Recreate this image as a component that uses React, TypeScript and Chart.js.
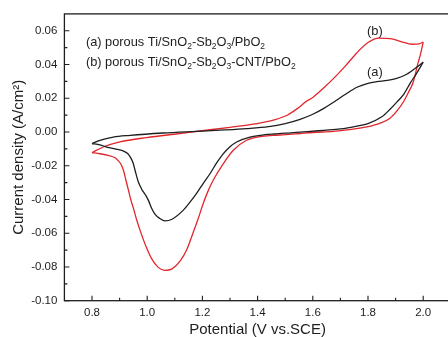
import React, { useEffect, useRef } from 'react';
import { Chart, registerables } from 'chart.js';

Chart.register(...registerables);

// ---- Data ----
// Curve (a): porous Ti/SnO2-Sb2O3/PbO2 — forward (anodic) scan
const potentialAFwd = [0.800, 0.829, 0.877, 0.938, 1.057, 1.179, 1.28, 1.36, 1.44, 1.50, 1.554, 1.60, 1.64, 1.674, 1.72, 1.76, 1.80, 1.832, 1.87, 1.904, 1.935, 1.965, 2.000];
const currentAFwd = [-0.0069, -0.0049, -0.0030, -0.0020, -0.0006, 0.0004, 0.0012, 0.0020, 0.0032, 0.0050, 0.0075, 0.0105, 0.0140, 0.0175, 0.0225, 0.0265, 0.0288, 0.0298, 0.0306, 0.0318, 0.0338, 0.0370, 0.0414];
// Curve (a): reverse (cathodic) scan
const potentialARev = [2.000, 1.975, 1.953, 1.930, 1.906, 1.88, 1.85, 1.80, 1.76, 1.70, 1.64, 1.58, 1.52, 1.46, 1.409, 1.372, 1.324, 1.300, 1.276, 1.251, 1.228, 1.202, 1.179, 1.155, 1.131, 1.090, 1.064, 1.046, 1.028, 1.016, 1.004, 0.992, 0.980, 0.967, 0.956, 0.949, 0.941, 0.930, 0.913, 0.883, 0.853, 0.829, 0.800];
const currentARev = [0.0414, 0.0345, 0.0290, 0.0225, 0.0180, 0.0135, 0.0090, 0.0050, 0.0035, 0.0018, 0.0010, 0.0002, -0.0005, -0.0012, -0.0020, -0.0030, -0.0059, -0.0087, -0.0128, -0.0185, -0.0246, -0.0307, -0.0364, -0.0416, -0.0463, -0.0517, -0.0527, -0.0513, -0.0487, -0.0452, -0.0404, -0.0369, -0.0339, -0.0292, -0.0227, -0.0184, -0.0155, -0.0129, -0.0112, -0.0100, -0.0089, -0.0076, -0.0069];

// Curve (b): porous Ti/SnO2-Sb2O3-CNT/PbO2 — forward scan
const potentialBFwd = [0.800, 0.841, 0.901, 0.998, 1.119, 1.191, 1.30, 1.398, 1.46, 1.507, 1.545, 1.575, 1.60, 1.64, 1.68, 1.72, 1.76, 1.80, 1.84, 1.88, 1.92, 1.96, 1.985, 2.000];
const currentBFwd = [-0.0122, -0.0089, -0.0059, -0.0033, -0.0009, 0.0006, 0.0028, 0.0050, 0.0072, 0.0099, 0.0140, 0.0180, 0.0205, 0.0262, 0.0325, 0.0395, 0.0470, 0.0530, 0.0556, 0.0553, 0.0536, 0.0520, 0.0522, 0.0533];
// Curve (b): reverse scan
const potentialBRev = [2.000, 1.990, 1.982, 1.964, 1.945, 1.928, 1.905, 1.880, 1.84, 1.795, 1.74, 1.674, 1.60, 1.554, 1.50, 1.457, 1.409, 1.360, 1.312, 1.276, 1.239, 1.220, 1.203, 1.184, 1.167, 1.144, 1.119, 1.090, 1.064, 1.039, 1.017, 0.998, 0.978, 0.962, 0.952, 0.941, 0.932, 0.923, 0.914, 0.905, 0.894, 0.880, 0.858, 0.829, 0.800];
const currentBRev = [0.0533, 0.0460, 0.0414, 0.0296, 0.0230, 0.0178, 0.0125, 0.0082, 0.0050, 0.0030, 0.0015, 0.0004, -0.0003, -0.0009, -0.0016, -0.0020, -0.0027, -0.0049, -0.0108, -0.0187, -0.0286, -0.0352, -0.0424, -0.0517, -0.0594, -0.0695, -0.0766, -0.0811, -0.0820, -0.0801, -0.0754, -0.0688, -0.0601, -0.0522, -0.0463, -0.0404, -0.0345, -0.0286, -0.0227, -0.0191, -0.0168, -0.0150, -0.0138, -0.0129, -0.0122];

// Axis ticks
const xTickValues = [0.8, 1.0, 1.2, 1.4, 1.6, 1.8, 2.0];
const xMinorTicks = [0.9, 1.1, 1.3, 1.5, 1.7, 1.9];
const yTickValues = [-0.10, -0.08, -0.06, -0.04, -0.02, 0.0, 0.02, 0.04, 0.06];
const yMinorTicks = [-0.09, -0.07, -0.05, -0.03, -0.01, 0.01, 0.03, 0.05];

// Text
const xTitle = 'Potential (V vs.SCE)';
const yTitle = 'Current density (A/cm²)';
// [text, isSubscript]
const legendLineA: [string, number][] = [['(a) porous Ti/SnO', 0], ['2', 1], ['-Sb', 0], ['2', 1], ['O', 0], ['3', 1], ['/PbO', 0], ['2', 1]];
const legendLineB: [string, number][] = [['(b) porous Ti/SnO', 0], ['2', 1], ['-Sb', 0], ['2', 1], ['O', 0], ['3', 1], ['-CNT/PbO', 0], ['2', 1]];
const curveLabelA = '(a)';
const curveLabelB = '(b)';

const FONT = "'Liberation Sans', Arial, sans-serif";
const INK = '#1e1e1e';
const RED = '#e3262b';

const toPoints = (xs: number[], ys: number[]) => xs.map((x, i) => ({ x, y: ys[i] }));

const W = 462;
const H = 337;

function drawRich(ctx: CanvasRenderingContext2D, parts: [string, number][], x: number, y: number) {
  let cx = x;
  for (const [t, sub] of parts) {
    ctx.font = sub ? `8.5px ${FONT}` : `12.8px ${FONT}`;
    ctx.fillText(t, cx, sub ? y + 3 : y);
    cx += ctx.measureText(t).width;
  }
}

const framePlugin = {
  id: 'frame',
  afterDraw(chart: any) {
    const { ctx, chartArea } = chart;
    const { left, right, top, bottom } = chartArea;
    const xs = chart.scales.x;
    const ys = chart.scales.y;
    ctx.save();
    ctx.strokeStyle = INK;
    ctx.lineWidth = 1.3;
    ctx.strokeRect(left, top, right - left, bottom - top);
    ctx.lineWidth = 1.1;
    ctx.beginPath();
    for (const v of xTickValues) {
      const p = xs.getPixelForValue(v);
      ctx.moveTo(p, bottom); ctx.lineTo(p, bottom - 5);
    }
    for (const v of xMinorTicks) {
      const p = xs.getPixelForValue(v);
      ctx.moveTo(p, bottom); ctx.lineTo(p, bottom - 3);
    }
    for (const v of yTickValues) {
      const p = ys.getPixelForValue(v);
      ctx.moveTo(left, p); ctx.lineTo(left + 5, p);
    }
    for (const v of yMinorTicks) {
      const p = ys.getPixelForValue(v);
      ctx.moveTo(left, p); ctx.lineTo(left + 3, p);
    }
    ctx.stroke();

    // Legend text
    ctx.fillStyle = INK;
    ctx.textAlign = 'left';
    ctx.textBaseline = 'alphabetic';
    drawRich(ctx, legendLineA, xs.getPixelForValue(0.778), ys.getPixelForValue(0.0507));
    drawRich(ctx, legendLineB, xs.getPixelForValue(0.778), ys.getPixelForValue(0.0392));

    // Curve labels
    ctx.font = `12.8px ${FONT}`;
    ctx.textAlign = 'center';
    ctx.textBaseline = 'middle';
    ctx.fillText(curveLabelB, xs.getPixelForValue(1.825), ys.getPixelForValue(0.0598));
    ctx.fillText(curveLabelA, xs.getPixelForValue(1.825), ys.getPixelForValue(0.0353));
    ctx.restore();
  },
};

export default function App() {
  const canvasRef = useRef<HTMLCanvasElement | null>(null);

  useEffect(() => {
    if (!canvasRef.current) return;
    const lineStyle = (color: string) => ({
      borderColor: color,
      backgroundColor: color,
      borderWidth: 1.3,
      showLine: true,
      pointRadius: 0,
      fill: false,
      cubicInterpolationMode: 'monotone' as const,
    });
    const chart = new Chart(canvasRef.current, {
      type: 'scatter',
      data: {
        datasets: [
          { label: 'a-fwd', data: toPoints(potentialAFwd, currentAFwd), ...lineStyle(INK) },
          { label: 'a-rev', data: toPoints(potentialARev, currentARev), ...lineStyle(INK) },
          { label: 'b-fwd', data: toPoints(potentialBFwd, currentBFwd), ...lineStyle(RED) },
          { label: 'b-rev', data: toPoints(potentialBRev, currentBRev), ...lineStyle(RED) },
        ],
      },
      options: {
        responsive: false,
        animation: false,
        devicePixelRatio: 1,
        layout: { padding: { top: 13.4, right: W - 450.8, left: 0, bottom: 0 } },
        plugins: { legend: { display: false }, tooltip: { enabled: false } },
        scales: {
          x: {
            type: 'linear',
            min: 0.7,
            max: 2.1,
            afterBuildTicks: (s: any) => { s.ticks = xTickValues.map((v) => ({ value: v })); },
            afterFit: (s: any) => { s.height = H - 300.7; },
            grid: { display: false, drawTicks: false },
            border: { display: false },
            ticks: {
              padding: 5,
              color: INK,
              autoSkip: false,
              maxRotation: 0,
              font: { family: FONT, size: 11.5 },
              callback: (v: any) => Number(v).toFixed(1),
            },
            title: {
              display: true,
              text: xTitle,
              color: INK,
              font: { family: FONT, size: 15, lineHeight: 1 },
              padding: { top: 0, bottom: 0 },
            },
          },
          y: {
            type: 'linear',
            min: -0.10,
            max: 0.07,
            afterBuildTicks: (s: any) => { s.ticks = yTickValues.map((v) => ({ value: v })); },
            afterFit: (s: any) => { s.width = 64.4; },
            grid: { display: false, drawTicks: false },
            border: { display: false },
            ticks: {
              padding: 7,
              color: INK,
              autoSkip: false,
              font: { family: FONT, size: 11.5 },
              callback: (v: any) => Number(v).toFixed(2),
            },
            title: {
              display: true,
              text: yTitle,
              color: INK,
              font: { family: FONT, size: 15, lineHeight: 1 },
              padding: { top: 11.5, bottom: 0 },
            },
          },
        },
      },
      plugins: [framePlugin],
    });
    return () => chart.destroy();
  }, []);

  return (
    <div style={{ position: 'fixed', left: 0, top: 0, width: 448, height: 337, overflow: 'hidden', background: '#fff' }}>
      <canvas ref={canvasRef} width={W} height={H} style={{ display: 'block' }} />
    </div>
  );
}
